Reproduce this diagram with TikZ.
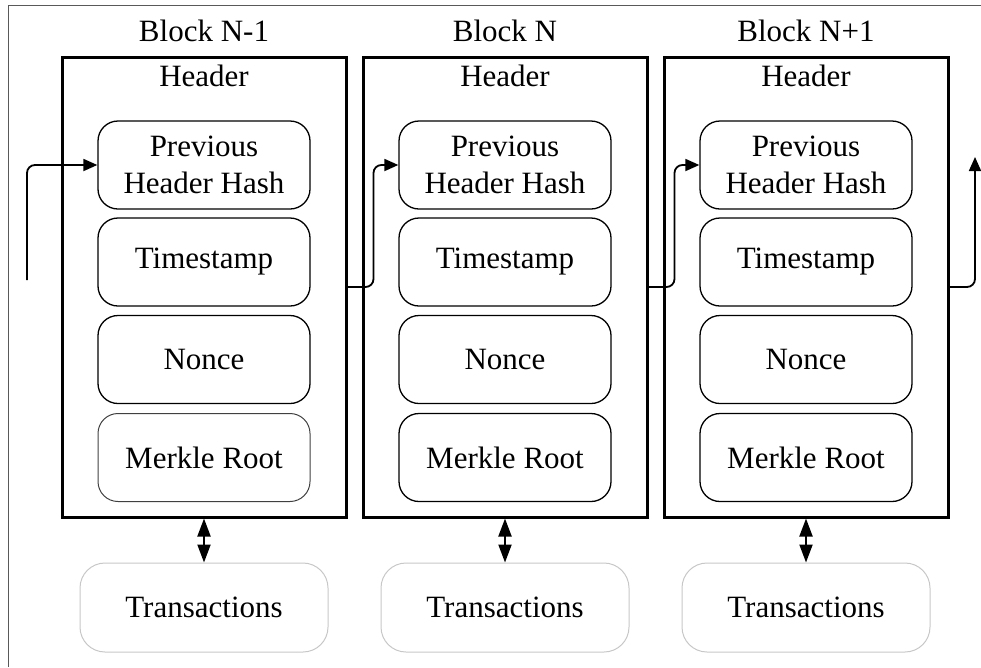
\documentclass[tikz,border=0pt]{standalone}
\usepackage{fontspec}
\setmainfont{Liberation Serif}
\usetikzlibrary{arrows.meta}
\begin{document}
\begin{tikzpicture}[x=1pt,y=-1pt,
  every node/.style={font=\fontsize{31pt}{37pt}\selectfont},
  blockbox/.style={draw, line width=3pt, minimum width=284pt, minimum height=460pt, inner sep=0pt},
  fieldbox/.style={draw, line width=1.3pt, rounded corners=20pt, minimum width=212pt, minimum height=88pt, align=center, inner sep=0pt},
  txbox/.style={draw=black!22, line width=1pt, rounded corners=25pt, minimum width=248pt, minimum height=89pt, inner sep=0pt},
  chain/.style={line width=1.8pt, rounded corners=8pt, -{Triangle[length=14pt,width=12pt]}},
  dbl/.style={line width=2pt, {Triangle[length=18pt,width=13pt]}-{Triangle[length=18pt,width=13pt]}},
  lbl/.style={anchor=base, inner sep=0pt}
]
\useasboundingbox (0,0) rectangle (981,667);
\draw[black!65, line width=1pt] (8,667) -- (8,5) -- (981,5);

\foreach \i/\x/\name in {1/204/Block N-1, 2/505/Block N, 3/806/Block N+1}{
  \node[lbl] (bl\i) at (\x,41) {\name};
  \node[blockbox] (b\i) at (\x,287) {};
  \node[lbl] (h\i) at (\x,86) {Header};
  \node[fieldbox] (p\i) at (\x,165) {Previous\\Header Hash};
  \node[fieldbox] (ts\i) at (\x,262) {Timestamp};
  \node[fieldbox] (n\i) at (\x,359.5) {Nonce};
  \node[txbox] (t\i) at (\x,607.5) {Transactions};
  \draw[dbl] (b\i.south) -- (t\i.north);
}
\node[fieldbox, draw=black!75, line width=1pt] (m1) at (204,457.5) {Merkle Root};
\node[fieldbox] (m2) at (505,457.5) {Merkle Root};
\node[fieldbox] (m3) at (806,457.5) {Merkle Root};

\coordinate (in0) at (27,280);
\coordinate (out0) at (975,157);
\draw[chain] (in0) |- (p1.west);
\draw[chain] (b1.east) -- ++(26,0) |- (p2.west);
\draw[chain] (b2.east) -- ++(26,0) |- (p3.west);
\draw[chain] (b3.east) -| (out0);
\end{tikzpicture}
\end{document}
